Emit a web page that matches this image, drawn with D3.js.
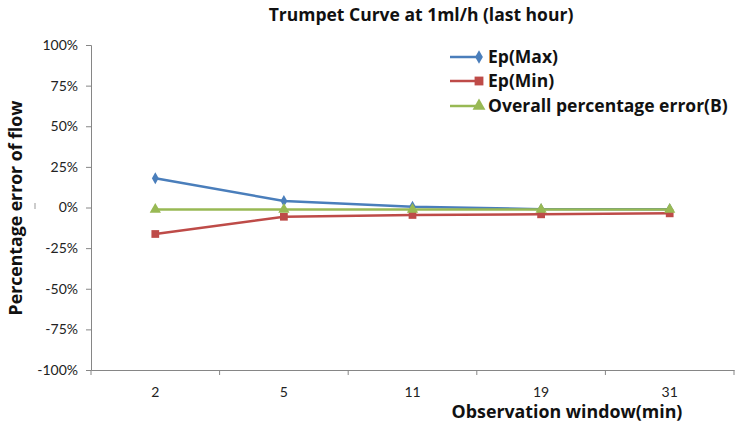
<!DOCTYPE html>
<html><head><meta charset="utf-8">
<script src="https://cdn.jsdelivr.net/npm/d3@7"></script>
<style>body{margin:0;background:#fff}svg{display:block}</style>
</head><body>
<svg id="c" width="740" height="425"></svg>
<script>
const categories = ["2", "5", "11", "19", "31"];
const epMax = [18.0, 4.0, 0.5, -1.0, -1.0];
const epMin = [-16.3, -5.7, -4.6, -4.2, -3.6];
const overall = [-1.2, -1.2, -1.2, -1.2, -1.2];
const yTicks = [100, 75, 50, 25, 0, -25, -50, -75, -100];
const seriesNames = ["Ep(Max)", "Ep(Min)", "Overall percentage error(B)"];

(function () {
const colors = ["#4A7EBB", "#BE4B48", "#98B954"];
const symbols = [d3.symbolDiamond, d3.symbolSquare, d3.symbolTriangle];
const symSizes = [40, 60, 55];

const svg = d3.select("#c");
const font = "Lato, 'Open Sans', sans-serif";
const bfont = "'Open Sans', Lato, sans-serif";
const pLeft = 91, pRight = 734, pTop = 45, pBottom = 370;
const x = d3.scaleBand().domain(categories).range([pLeft, pRight]);
const y = d3.scaleLinear().domain([-100, 100]).range([pBottom, pTop]);
const axisColor = "#868686";

function fit(sel, target, base) {
  const w = sel.node().getComputedTextLength();
  if (w > 0) sel.attr("font-size", base * target / w);
}

// y axis
const ya = svg.append("g").attr("transform", `translate(${pLeft},0)`)
  .call(d3.axisLeft(y).tickValues(yTicks).tickSize(5).tickPadding(8).tickFormat(d => d + "%"));
ya.select(".domain").attr("stroke", axisColor);
ya.selectAll(".tick line").attr("stroke", axisColor);
ya.selectAll("text").attr("font-family", font).attr("font-size", 14).attr("fill", "#222");

// x axis
const xa = svg.append("g").attr("transform", `translate(0,${pBottom})`)
  .call(d3.axisBottom(x).tickSize(0).tickPadding(17));
xa.select(".domain").attr("stroke", axisColor);
xa.selectAll("text").attr("font-family", font).attr("font-size", 14).attr("fill", "#222");
const bounds = categories.map(c => x(c)).concat([x(categories[categories.length-1]) + x.bandwidth()]);
svg.append("g").selectAll("line").data(bounds).join("line")
  .attr("x1", d => d).attr("x2", d => d).attr("y1", pBottom).attr("y2", pBottom + 5)
  .attr("stroke", axisColor);

// small artifact mark
svg.append("line").attr("x1", 35).attr("x2", 35).attr("y1", 203).attr("y2", 209).attr("stroke", "#999");

// series
const allSeries = [epMax, epMin, overall];
const line = d3.line().x((d, i) => x(categories[i]) + x.bandwidth() / 2).y(d => y(d));
allSeries.forEach((s, k) => {
  svg.append("path").datum(s).attr("d", line).attr("fill", "none")
    .attr("stroke", colors[k]).attr("stroke-width", 2.5);
});
allSeries.forEach((s, k) => {
  svg.append("g").selectAll("path").data(s).join("path")
    .attr("d", d3.symbol().type(symbols[k]).size(symSizes[k]))
    .attr("transform", (d, i) => `translate(${x(categories[i]) + x.bandwidth() / 2},${y(d)})`)
    .attr("fill", colors[k]);
});

// legend
const legY = [57, 81, 106];
const legW = [93, 87, 240];
seriesNames.forEach((n, k) => {
  const g = svg.append("g").attr("transform", `translate(450,${legY[k]})`);
  g.append("line").attr("x1", 0).attr("x2", 28).attr("stroke", colors[k]).attr("stroke-width", 2.5);
  g.append("path").attr("d", d3.symbol().type(symbols[k]).size(symSizes[k] * 1.3))
    .attr("transform", "translate(29,0)").attr("fill", colors[k]);
  const t = g.append("text").attr("x", 38).attr("y", 6).text(n)
    .attr("font-family", bfont).attr("font-weight", "bold").attr("font-size", 16).attr("fill", "#111");
  if (k === 2) fit(t, legW[k], 16);
});
// keep legend sizes consistent
const legSize = svg.selectAll("g text").filter(function(){return this.textContent.startsWith("Overall");}).attr("font-size");
svg.selectAll("g text").filter(function(){return this.textContent.startsWith("Ep(");}).attr("font-size", legSize);

// title
const tt = svg.append("text").attr("x", 421).attr("y", 21).attr("text-anchor", "middle")
  .text("Trumpet Curve at 1ml/h (last hour)")
  .attr("font-family", bfont).attr("font-weight", "bold").attr("font-size", 16).attr("fill", "#111");
fit(tt, 305, 16);

// axis titles
const yt = svg.append("text").attr("transform", "translate(22,208) rotate(-90)").attr("text-anchor", "middle")
  .text("Percentage error of flow")
  .attr("font-family", bfont).attr("font-weight", "bold").attr("font-size", 17).attr("fill", "#111");
fit(yt, 215, 17);
const xt = svg.append("text").attr("x", 567).attr("y", 418).attr("text-anchor", "middle")
  .text("Observation window(min)")
  .attr("font-family", bfont).attr("font-weight", "bold").attr("font-size", 17).attr("fill", "#111");
fit(xt, 231, 17);
})();
</script>
</body></html>
